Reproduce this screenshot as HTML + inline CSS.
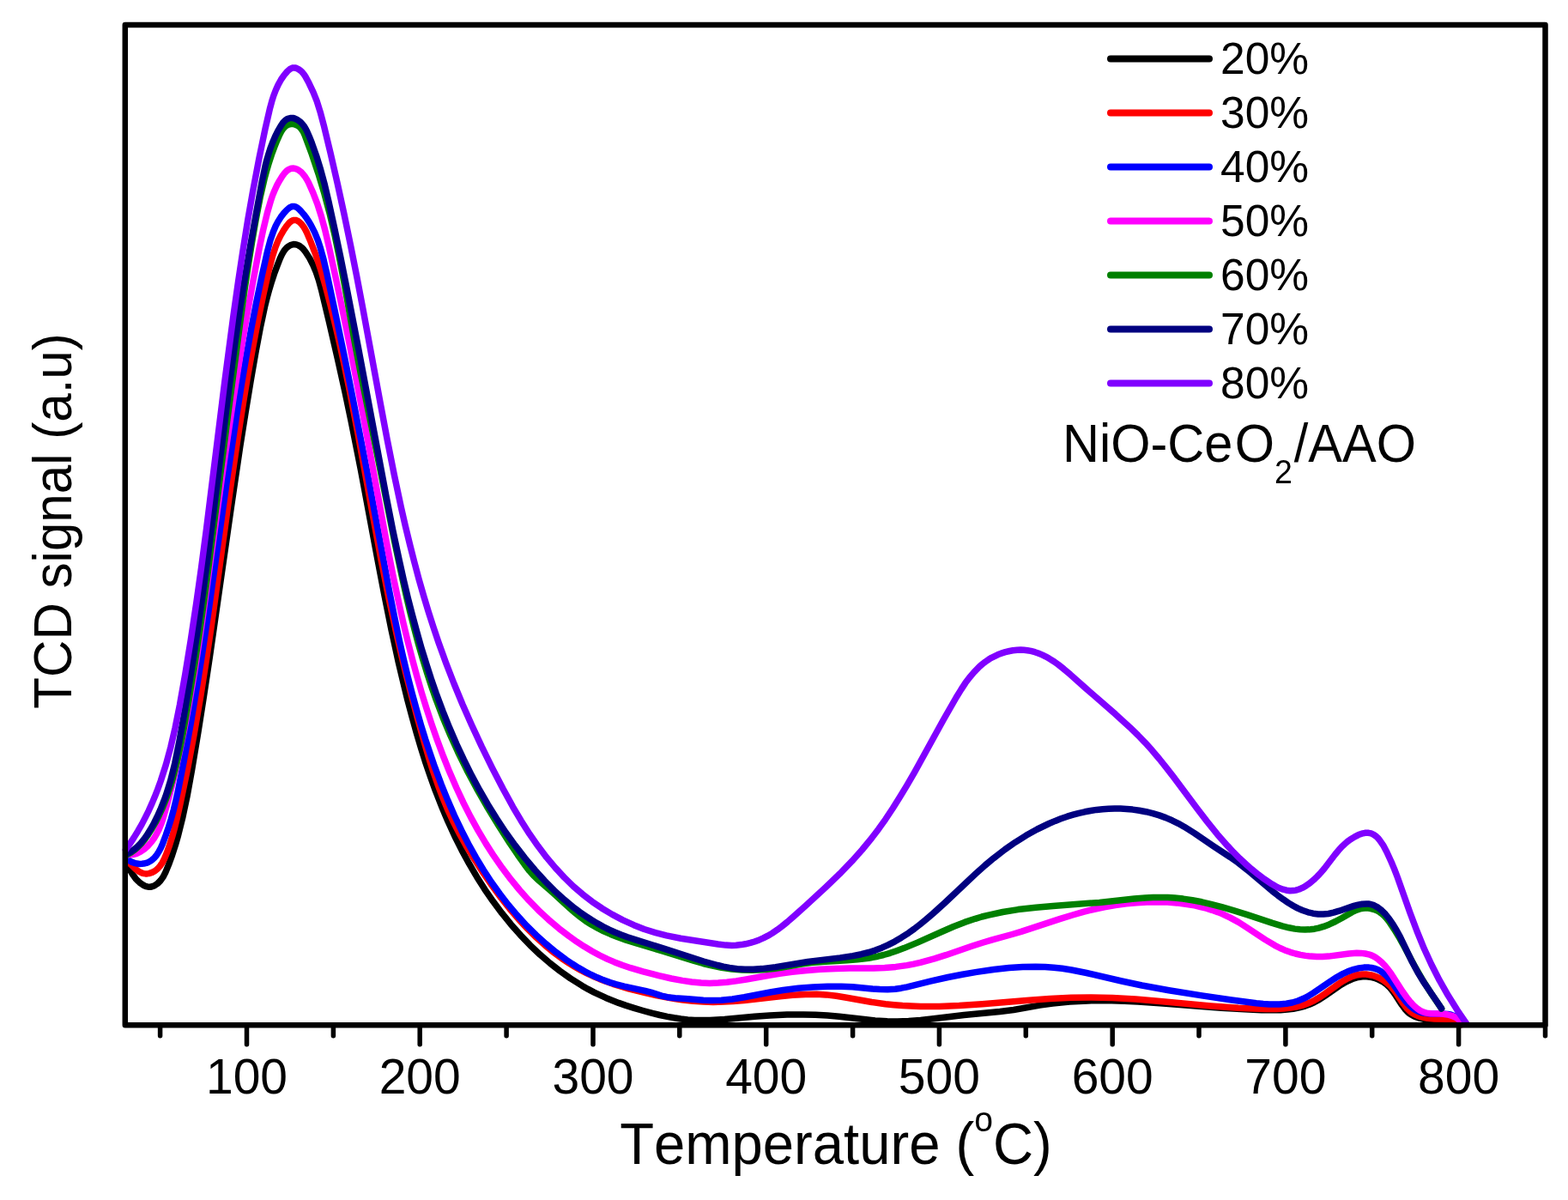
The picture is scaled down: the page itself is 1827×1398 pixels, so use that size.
<!DOCTYPE html>
<html><head><meta charset="utf-8"><title>TPR</title>
<style>html,body{margin:0;padding:0;background:#fff;}svg{display:block;}text{font-kerning:none;}</style>
</head><body>
<svg width="1827" height="1398" viewBox="0 0 1827 1398"><g><rect x="0" y="0" width="1827" height="1398" fill="#fff"/><path d="M147.2 1005.0L151.2 1013.1L154.8 1019.1L158.4 1023.9L160.4 1026.1L162.6 1028.1L166.7 1031.0L169.4 1032.3L171.3 1032.9L173.3 1033.2L175.3 1033.2L177.3 1032.8L180.1 1031.7L183.4 1029.5L186.9 1026.0L189.9 1021.9L192.7 1016.6L196.5 1007.4L200.6 996.1L204.3 984.7L207.6 973.1L212.9 951.8L217.9 928.3L223.6 896.8L231.0 852.4L237.5 810.9L244.5 764.4L269.3 591.2L279.8 519.9L286.1 480.4L292.1 443.9L298.3 408.4L303.7 379.9L308.5 357.4L311.2 346.7L313.8 337.1L316.7 327.5L319.5 319.0L323.0 309.6L326.3 301.2L328.4 296.7L330.4 293.2L332.1 290.7L334.1 288.5L336.5 286.7L339.1 285.3L342.0 284.6L344.0 284.7L346.0 285.1L347.8 285.9L349.6 286.9L351.9 288.7L354.0 290.9L355.8 293.3L360.7 300.8L364.8 308.8L368.3 317.1L371.5 326.6L374.4 337.2L383.5 375.2L393.6 419.0L401.9 456.1L409.1 490.4L420.4 547.3L439.9 651.5L447.8 692.7L456.1 733.9L464.2 771.1L469.5 793.5L474.7 814.8L480.1 835.1L485.2 853.4L490.6 871.7L496.0 888.8L501.5 904.9L507.3 920.9L514.6 939.5L522.0 957.0L529.9 974.3L538.0 990.4L546.6 1006.2L555.7 1021.7L564.8 1036.1L574.5 1050.1L584.7 1063.7L595.4 1076.9L606.6 1089.6L617.7 1101.2L629.3 1112.2L640.7 1122.0L652.5 1131.2L664.7 1139.9L678.3 1148.4L685.3 1152.4L692.3 1156.1L705.9 1162.4L720.8 1168.4L729.3 1171.4L738.8 1174.4L749.4 1177.5L760.0 1180.4L768.7 1182.5L777.5 1184.4L785.4 1185.8L793.3 1187.0L801.3 1187.9L809.3 1188.4L818.2 1188.6L827.2 1188.5L844.2 1187.4L879.1 1184.2L897.0 1182.9L917.0 1182.0L936.0 1181.9L950.0 1182.3L964.0 1183.1L977.9 1184.3L1006.8 1187.6L1019.7 1188.9L1033.7 1189.8L1045.7 1190.0L1058.7 1189.6L1072.6 1188.5L1085.6 1187.1L1123.3 1182.5L1165.1 1178.5L1181.0 1176.5L1211.5 1171.1L1226.4 1169.0L1236.3 1167.9L1246.3 1167.0L1267.2 1165.9L1281.2 1165.7L1295.2 1165.8L1310.2 1166.2L1326.2 1166.9L1355.2 1168.9L1423.0 1174.3L1454.9 1176.1L1469.9 1176.7L1482.9 1176.8L1491.9 1176.7L1499.9 1176.1L1506.8 1175.3L1513.7 1173.9L1520.5 1172.1L1526.1 1170.0L1531.6 1167.5L1537.7 1164.1L1543.5 1160.3L1560.8 1148.4L1566.0 1145.3L1571.3 1142.5L1576.8 1140.1L1582.6 1138.5L1587.5 1137.8L1592.5 1137.8L1598.4 1138.6L1601.3 1139.3L1605.1 1140.6L1610.5 1143.3L1615.4 1146.8L1619.1 1150.2L1622.9 1154.8L1626.3 1159.7L1633.4 1170.6L1637.6 1176.2L1639.7 1178.4L1641.9 1180.4L1644.4 1182.1L1647.0 1183.6L1649.7 1184.8L1652.6 1185.8L1658.4 1187.2L1666.3 1188.2L1683.3 1189.3L1690.2 1190.1L1697.1 1191.5L1702.8 1193.5" fill="none" stroke="#000000" stroke-width="7.5" stroke-linejoin="round" stroke-linecap="round"/><path d="M147.2 1002.0L155.0 1009.7L158.0 1012.4L162.0 1015.4L165.6 1017.1L167.5 1017.6L169.5 1017.9L171.5 1017.9L173.5 1017.6L177.3 1016.4L180.8 1014.5L183.9 1011.9L186.5 1008.9L189.3 1004.8L191.6 1000.3L194.3 993.8L197.6 984.4L200.6 974.9L203.3 965.3L206.4 952.6L209.9 937.0L218.5 895.9L226.1 855.6L233.6 812.2L239.8 772.7L246.3 729.2L268.5 568.7L278.1 503.4L283.5 468.8L288.9 436.3L294.6 404.8L300.2 375.3L306.7 344.0L313.5 313.7L317.3 299.2L321.0 287.8L324.0 280.4L327.1 274.1L330.6 268.1L334.0 263.1L337.3 259.3L339.6 257.5L341.4 256.6L342.4 256.4L344.4 256.4L346.3 257.0L348.8 258.6L351.0 260.7L353.5 263.8L355.6 267.2L357.4 270.8L362.1 281.8L368.2 297.7L373.6 313.8L378.9 332.1L385.0 355.3L390.7 378.6L396.1 402.0L401.6 427.4L407.3 454.8L417.5 507.8L436.2 610.2L444.1 652.4L452.7 695.6L461.2 734.7L467.2 761.0L473.3 786.3L480.0 812.4L486.7 837.6L493.4 861.6L499.0 880.8L504.5 898.0L510.1 914.1L516.1 929.9L522.3 944.7L528.7 958.3L536.0 972.5L544.3 987.3L553.2 1001.8L563.0 1016.9L573.9 1032.5L584.0 1046.2L593.9 1058.7L604.3 1070.9L614.5 1081.9L624.5 1091.7L634.8 1101.1L645.7 1110.0L656.2 1117.6L662.9 1122.1L669.7 1126.2L676.6 1130.2L683.8 1133.8L691.0 1137.2L698.4 1140.4L705.8 1143.3L714.3 1146.3L722.9 1149.0L732.5 1151.8L752.8 1156.9L764.6 1159.5L776.3 1161.8L786.2 1163.5L796.1 1165.0L808.0 1166.3L820.0 1167.1L831.0 1167.4L843.0 1167.1L854.0 1166.5L866.9 1165.4L908.7 1160.7L923.6 1159.3L938.6 1158.4L951.6 1158.3L962.5 1158.9L974.5 1160.3L986.3 1162.2L1015.8 1167.5L1031.7 1169.7L1041.6 1170.7L1051.6 1171.5L1061.6 1172.0L1072.6 1172.4L1094.6 1172.4L1117.6 1171.5L1144.5 1169.7L1199.3 1165.2L1223.3 1163.5L1248.2 1162.3L1271.2 1161.9L1296.2 1162.6L1323.2 1164.1L1349.1 1166.2L1410.9 1171.9L1442.8 1174.2L1459.8 1175.0L1474.8 1175.4L1486.8 1175.4L1495.7 1174.9L1503.7 1174.1L1511.6 1172.7L1518.3 1171.0L1524.9 1168.6L1531.3 1165.6L1537.3 1162.1L1543.9 1157.6L1560.2 1145.9L1565.2 1142.7L1570.5 1139.8L1576.0 1137.4L1581.7 1135.7L1586.7 1135.0L1591.7 1135.0L1597.6 1136.0L1600.5 1136.7L1604.2 1138.1L1607.0 1139.3L1610.5 1141.2L1613.8 1143.4L1616.2 1145.2L1619.9 1148.6L1623.9 1153.1L1627.4 1157.9L1634.6 1168.8L1638.9 1174.3L1641.0 1176.5L1643.2 1178.5L1645.6 1180.3L1648.2 1181.8L1651.8 1183.4L1655.6 1184.7L1659.5 1185.6L1663.5 1186.3L1671.4 1187.0L1685.4 1187.2L1691.4 1187.9L1695.2 1188.9L1698.0 1190.1L1700.6 1191.7L1702.9 1193.5" fill="none" stroke="#ff0000" stroke-width="7.5" stroke-linejoin="round" stroke-linecap="round"/><path d="M147.0 998.8L149.7 1001.7L151.3 1002.9L153.9 1004.4L157.7 1005.7L159.6 1006.1L162.6 1006.4L165.6 1006.3L167.6 1006.1L170.5 1005.4L172.4 1004.7L175.9 1002.8L177.5 1001.6L179.7 999.6L182.3 996.5L185.0 992.3L187.3 987.9L189.7 982.4L193.2 973.0L196.4 963.6L199.4 954.0L202.3 943.4L204.9 932.7L207.7 920.0L214.1 887.6L222.0 844.3L229.8 798.0L236.1 758.5L242.6 715.0L265.3 553.5L275.3 486.3L281.1 449.7L286.8 416.2L292.6 383.7L298.5 353.3L305.0 321.9L311.6 292.7L314.9 280.1L318.5 269.7L321.2 263.3L324.0 258.0L327.2 252.9L330.9 248.1L334.3 244.5L337.4 241.9L340.1 240.6L342.1 240.4L343.0 240.5L344.9 241.1L346.6 242.2L348.9 244.1L351.0 246.3L354.2 250.1L357.2 254.1L360.0 258.3L362.5 262.6L366.6 270.6L370.4 279.9L373.5 289.4L376.7 300.9L381.0 319.4L392.1 371.3L401.3 415.3L410.4 460.4L427.6 548.8L452.8 684.5L459.4 717.8L465.6 747.2L470.2 767.6L475.1 788.1L480.1 807.5L485.1 825.8L490.3 844.0L495.6 861.2L501.3 878.3L506.9 894.4L514.3 914.1L521.8 932.6L529.4 950.0L537.6 967.2L545.8 983.2L554.5 998.9L563.3 1013.5L572.6 1027.7L582.5 1041.5L592.3 1054.2L602.6 1066.4L613.4 1078.2L624.8 1089.4L635.9 1099.5L647.5 1109.1L659.5 1118.0L667.0 1123.0L673.8 1127.3L681.6 1131.8L688.7 1135.5L695.9 1138.8L703.3 1141.9L710.8 1144.6L717.5 1146.7L727.2 1149.1L751.7 1154.3L759.4 1156.4L770.8 1160.1L777.6 1161.7L786.6 1162.7L801.6 1163.7L819.5 1165.2L828.5 1165.6L840.5 1165.3L853.4 1164.0L867.2 1161.8L898.7 1155.8L912.5 1153.5L930.3 1151.3L947.3 1149.9L964.3 1149.2L980.3 1149.2L993.3 1149.8L1016.2 1151.9L1025.1 1152.5L1034.1 1152.7L1043.1 1152.2L1050.1 1151.2L1056.9 1149.8L1085.1 1142.9L1104.6 1138.5L1121.3 1135.2L1138.0 1132.4L1157.8 1129.5L1175.7 1127.6L1191.7 1126.5L1206.7 1126.2L1217.7 1126.5L1227.7 1127.2L1237.6 1128.3L1248.5 1130.0L1266.1 1133.5L1307.0 1143.0L1330.5 1148.0L1362.0 1153.7L1400.5 1159.9L1435.1 1165.0L1463.9 1168.7L1471.9 1169.5L1478.9 1169.9L1484.8 1170.1L1490.8 1170.0L1498.8 1169.3L1505.7 1168.0L1512.4 1166.0L1518.9 1163.3L1524.2 1160.6L1530.2 1156.9L1550.0 1143.3L1557.5 1138.5L1564.5 1134.6L1570.9 1131.6L1577.5 1129.3L1583.3 1127.9L1589.2 1127.1L1595.2 1127.1L1598.2 1127.5L1601.1 1128.1L1605.8 1129.8L1610.1 1132.3L1614.0 1135.5L1617.5 1139.1L1621.3 1143.7L1632.8 1160.0L1637.7 1166.4L1640.4 1169.4L1643.2 1172.2L1646.3 1174.7L1648.8 1176.4L1651.4 1177.8L1654.2 1179.0L1657.0 1179.9L1661.0 1180.6L1667.0 1181.0L1683.0 1181.2L1686.9 1181.5L1690.9 1182.3L1694.6 1183.7L1698.0 1185.8L1700.8 1188.6L1702.9 1192.0" fill="none" stroke="#0000ff" stroke-width="7.5" stroke-linejoin="round" stroke-linecap="round"/><path d="M147.0 994.9L148.9 995.5L150.9 995.8L154.9 995.6L158.8 994.7L163.3 992.5L168.2 989.1L172.7 985.1L176.6 980.6L180.1 975.7L182.6 971.4L185.3 966.0L187.6 960.4L189.6 954.8L194.3 938.5L201.3 911.3L208.0 882.1L214.4 851.8L220.5 819.3L226.5 783.8L231.0 755.2L235.8 722.5L258.6 556.1L265.6 507.5L272.2 463.0L279.5 416.6L286.7 373.2L294.3 330.9L301.7 291.5L306.6 268.1L311.5 247.6L315.7 233.2L317.6 227.6L319.9 222.0L322.8 215.6L325.7 210.4L328.9 205.3L331.9 201.3L334.0 199.1L336.4 197.4L339.2 196.3L342.2 196.1L344.1 196.5L346.9 197.6L348.6 198.7L351.0 200.5L353.0 202.7L355.5 205.9L357.6 209.3L359.5 212.8L364.8 224.6L369.8 237.7L374.4 252.0L378.6 267.5L383.4 287.9L391.9 327.0L399.7 364.2L407.7 403.4L423.1 483.9L450.7 633.4L458.0 670.7L465.1 704.0L470.1 726.4L475.3 747.8L480.5 768.2L485.7 787.5L491.2 806.7L496.8 824.9L502.7 842.9L509.0 860.9L516.3 880.5L523.7 899.1L531.7 917.5L539.7 934.7L548.3 951.6L557.0 967.4L566.2 982.9L575.4 997.2L585.1 1011.1L595.4 1024.7L605.5 1037.0L616.2 1048.9L627.4 1060.4L639.1 1071.3L651.3 1081.7L663.2 1090.8L672.2 1097.2L680.5 1102.6L690.0 1108.2L698.8 1113.0L707.8 1117.4L716.1 1120.9L725.4 1124.5L734.9 1127.7L749.3 1131.8L767.7 1136.6L782.3 1140.0L795.1 1142.4L806.0 1144.0L816.9 1145.1L826.9 1145.4L836.9 1145.1L846.9 1144.3L857.8 1142.9L869.6 1141.0L896.2 1136.3L908.1 1134.3L922.9 1132.3L937.8 1130.7L955.8 1129.3L973.8 1128.5L989.8 1128.1L1017.8 1127.9L1030.8 1127.4L1043.7 1126.4L1056.6 1124.6L1064.5 1123.1L1072.3 1121.4L1088.7 1116.9L1102.0 1112.7L1132.3 1102.3L1145.6 1098.0L1156.1 1094.8L1179.3 1088.5L1189.8 1085.4L1235.5 1070.4L1249.8 1066.0L1262.3 1062.4L1273.9 1059.5L1286.7 1056.8L1299.5 1054.6L1312.3 1052.8L1324.3 1051.7L1336.3 1051.0L1348.3 1050.8L1360.3 1051.1L1371.2 1051.9L1385.1 1053.7L1392.0 1054.9L1398.8 1056.5L1405.6 1058.2L1412.3 1060.3L1418.9 1062.6L1424.5 1064.8L1433.5 1069.1L1443.2 1074.4L1452.5 1080.3L1474.1 1094.6L1485.3 1101.3L1491.5 1104.5L1497.0 1106.9L1503.6 1109.3L1509.4 1111.0L1515.2 1112.4L1521.1 1113.4L1527.1 1114.1L1534.1 1114.5L1541.1 1114.5L1548.0 1114.1L1571.8 1111.0L1580.8 1110.3L1585.8 1110.4L1590.8 1111.0L1594.7 1111.8L1598.5 1113.1L1602.0 1114.9L1606.1 1117.8L1609.9 1121.1L1614.0 1125.4L1617.8 1130.1L1621.3 1135.0L1634.3 1155.2L1639.5 1162.5L1642.6 1166.4L1645.9 1170.1L1648.8 1172.9L1651.9 1175.4L1654.4 1177.1L1657.1 1178.5L1659.9 1179.6L1661.8 1180.1L1666.8 1180.7L1676.8 1180.9L1681.7 1181.2L1686.7 1182.0L1691.5 1183.3L1696.1 1185.3L1699.4 1187.4L1702.4 1190.1L1705.0 1193.2" fill="none" stroke="#ff00ff" stroke-width="7.5" stroke-linejoin="round" stroke-linecap="round"/><path d="M147.5 996.1L151.9 993.6L156.8 990.2L160.6 986.9L164.8 982.6L168.6 978.0L172.7 972.3L177.0 965.5L181.4 957.7L185.4 949.7L189.2 941.5L192.6 933.1L195.7 924.7L198.5 916.1L201.4 906.6L204.2 895.9L206.8 885.2L209.5 872.5L212.3 858.8L219.5 818.4L226.2 778.0L232.9 733.4L238.0 697.8L243.3 658.1L265.2 486.5L280.9 367.5L285.4 334.8L289.6 307.1L293.7 281.4L298.0 256.7L303.1 230.2L308.0 208.8L310.6 199.1L313.4 189.5L316.5 180.0L319.6 171.6L322.6 164.1L325.9 156.8L327.7 153.3L329.9 149.9L332.6 147.1L335.2 145.5L338.0 144.6L341.0 144.4L343.0 144.8L344.9 145.4L346.7 146.3L349.1 148.0L350.5 149.5L352.3 151.9L353.8 154.5L355.0 157.2L363.4 179.7L371.0 202.5L377.9 225.5L384.1 248.7L389.6 272.1L394.9 297.5L401.1 329.9L413.5 399.9L419.9 433.3L443.0 547.0L459.6 630.4L468.5 672.5L473.3 693.9L477.9 713.4L482.6 731.8L487.5 750.2L492.5 767.5L497.5 783.7L502.8 799.9L508.1 815.0L516.3 836.5L524.8 856.8L533.9 876.8L544.1 897.4L555.4 918.6L567.3 939.5L580.3 960.8L593.8 981.9L603.3 996.0L611.4 1007.4L616.9 1014.6L621.5 1019.8L628.0 1026.0L644.7 1040.4L664.6 1058.7L670.6 1063.9L676.1 1068.3L682.5 1073.0L689.3 1077.3L696.3 1081.2L703.4 1084.8L711.6 1088.4L720.0 1091.7L729.5 1095.1L740.9 1098.7L772.5 1108.2L808.8 1119.5L819.4 1122.5L829.1 1124.9L840.8 1127.4L852.7 1129.1L864.7 1130.1L876.7 1130.3L888.7 1129.8L901.6 1128.5L911.5 1127.0L934.2 1123.1L945.1 1121.6L958.0 1120.5L987.0 1118.8L999.0 1117.8L1011.9 1116.2L1022.7 1114.2L1029.5 1112.5L1037.1 1110.3L1044.7 1107.7L1053.2 1104.6L1068.9 1098.1L1099.0 1084.7L1111.0 1079.5L1124.0 1074.4L1136.4 1070.3L1144.0 1068.0L1151.8 1066.1L1168.4 1062.5L1186.2 1059.6L1207.1 1057.2L1227.0 1055.4L1280.9 1051.4L1321.6 1047.1L1334.6 1046.0L1343.6 1045.5L1352.6 1045.4L1360.6 1045.6L1368.6 1046.1L1378.5 1047.1L1389.4 1048.8L1400.2 1050.8L1410.9 1053.3L1423.5 1056.6L1437.9 1060.8L1453.2 1065.6L1482.6 1075.4L1494.1 1078.9L1501.9 1080.8L1508.7 1082.1L1514.7 1082.8L1520.7 1083.0L1526.7 1082.8L1531.6 1082.2L1536.5 1081.1L1542.3 1079.4L1548.8 1076.9L1556.1 1073.5L1563.1 1069.7L1575.3 1062.7L1580.7 1060.2L1584.5 1058.9L1587.4 1058.3L1590.4 1058.0L1594.4 1058.1L1597.4 1058.6L1601.2 1059.6L1604.9 1061.1L1607.5 1062.6L1610.0 1064.4L1612.9 1067.0L1615.6 1070.0L1618.7 1073.9L1624.8 1083.1L1631.0 1093.4L1636.3 1103.0L1649.5 1127.7L1657.0 1140.7L1667.2 1156.8L1679.6 1174.9" fill="none" stroke="#008000" stroke-width="7.5" stroke-linejoin="round" stroke-linecap="round"/><path d="M147.5 995.0L151.9 992.7L156.0 989.8L159.8 986.6L164.0 982.3L167.8 977.6L171.3 972.8L175.0 966.8L179.4 959.0L183.0 951.8L186.7 943.6L189.7 936.2L192.9 927.8L195.7 919.2L198.6 909.6L201.1 900.0L203.7 889.3L208.7 864.8L215.6 826.4L222.6 784.0L229.6 738.5L236.4 691.0L243.5 638.4L250.4 583.8L265.6 461.8L274.4 395.3L279.8 358.7L285.3 324.1L291.8 285.7L299.4 243.3L305.6 209.9L308.9 194.2L310.8 186.5L312.8 179.7L314.9 173.1L317.4 166.5L320.5 159.2L323.6 152.9L327.1 146.8L329.9 142.7L332.7 139.9L335.3 138.3L338.2 137.5L341.2 137.5L343.1 138.0L345.9 139.2L348.4 140.8L350.7 142.7L352.7 144.9L354.5 147.3L356.1 149.9L357.9 153.4L360.3 158.9L363.3 166.4L368.6 181.4L373.6 197.7L378.3 215.1L382.9 234.6L389.5 264.8L396.7 299.1L404.0 335.4L417.5 405.1L449.8 577.1L457.7 617.4L465.2 652.6L470.2 675.1L475.3 696.5L480.5 716.8L485.7 736.1L490.9 754.4L496.5 772.6L502.3 790.7L508.2 807.7L515.9 828.3L523.7 847.8L532.0 867.1L540.5 885.2L549.4 903.1L558.9 920.7L568.4 937.2L578.4 953.3L588.9 969.2L600.0 984.6L611.6 999.6L623.2 1013.5L634.6 1026.1L645.8 1037.4L657.6 1048.2L669.2 1057.8L675.6 1062.6L682.2 1067.1L688.9 1071.5L695.8 1075.6L702.8 1079.5L709.9 1083.1L716.3 1086.0L723.7 1089.0L731.2 1091.8L740.7 1094.9L775.1 1105.6L819.8 1120.0L836.2 1124.5L843.0 1126.1L849.9 1127.4L858.8 1128.7L867.8 1129.3L877.8 1129.3L887.8 1128.6L903.7 1126.6L941.2 1120.4L978.9 1115.9L993.7 1113.6L1003.5 1111.7L1012.3 1109.5L1019.9 1107.1L1027.4 1104.2L1034.7 1100.9L1042.7 1096.8L1050.4 1092.2L1058.8 1086.8L1065.3 1082.1L1072.4 1076.6L1079.4 1070.9L1087.0 1064.4L1101.1 1051.6L1136.7 1018.0L1147.9 1008.0L1157.9 999.7L1170.6 989.9L1182.9 981.3L1195.6 973.3L1208.7 966.0L1222.2 959.5L1229.5 956.4L1236.1 953.8L1243.6 951.2L1250.3 949.2L1257.1 947.3L1263.9 945.8L1270.8 944.5L1277.7 943.4L1284.7 942.7L1291.6 942.2L1298.6 942.0L1305.6 942.1L1312.6 942.4L1319.6 943.1L1327.5 944.2L1335.4 945.7L1343.2 947.6L1350.8 949.9L1358.3 952.6L1365.7 955.8L1372.9 959.3L1379.8 963.2L1391.7 970.7L1414.0 985.9L1433.3 998.5L1440.7 1003.6L1453.3 1013.5L1482.3 1038.0L1488.6 1042.9L1495.1 1047.7L1500.8 1051.6L1506.8 1055.2L1512.1 1058.1L1517.6 1060.5L1524.2 1062.8L1530.0 1064.2L1536.0 1065.0L1542.0 1065.1L1547.9 1064.5L1553.8 1063.2L1560.5 1061.2L1577.5 1055.4L1582.4 1054.1L1587.3 1053.2L1592.3 1052.9L1595.3 1053.1L1597.2 1053.5L1601.0 1054.7L1605.4 1057.1L1610.1 1060.8L1614.3 1065.0L1618.7 1070.5L1623.2 1077.1L1627.3 1084.0L1631.6 1091.9L1645.5 1120.8L1652.1 1133.1L1659.4 1145.0L1674.0 1166.5L1679.5 1174.9" fill="none" stroke="#000080" stroke-width="7.5" stroke-linejoin="round" stroke-linecap="round"/><path d="M146.5 990.0L151.1 983.4L156.0 975.9L160.7 968.2L165.2 960.4L169.3 952.4L173.3 944.3L177.0 936.1L180.5 927.8L183.8 919.4L187.2 910.0L193.3 891.0L198.8 870.7L204.0 848.3L209.5 820.9L215.8 785.4L222.4 744.9L228.8 702.4L234.5 661.8L240.5 616.2L262.2 441.5L271.9 368.1L277.5 328.5L283.2 290.9L288.9 255.4L294.8 221.9L301.9 184.5L309.2 149.3L314.6 125.9L316.7 118.2L318.8 111.5L321.3 105.0L324.2 98.6L327.6 92.5L331.0 87.6L334.9 83.0L338.0 80.4L340.7 79.1L341.7 79.0L343.7 79.0L345.6 79.5L348.2 80.9L349.9 82.1L352.1 84.1L354.0 86.4L355.7 88.9L360.0 96.8L365.1 107.6L369.2 117.9L373.1 130.3L377.2 145.7L385.2 178.8L393.0 212.9L400.9 249.1L408.6 286.3L415.6 321.6L422.9 359.9L443.8 473.0L451.2 512.3L459.4 553.5L467.3 590.7L472.4 613.1L477.6 634.5L482.8 654.9L488.2 675.2L493.7 694.4L499.2 712.6L505.0 730.7L511.1 748.7L519.6 772.2L529.0 796.5L538.9 820.5L549.4 844.3L561.2 869.7L573.6 894.8L586.0 918.8L597.5 939.8L607.2 956.2L616.9 971.4L626.6 985.3L636.9 998.9L647.2 1011.1L657.4 1022.1L668.1 1032.6L678.7 1041.7L689.8 1050.3L701.4 1058.2L713.4 1065.4L725.7 1071.9L738.5 1077.7L750.6 1082.5L763.9 1086.7L776.5 1089.9L793.2 1093.2L836.7 1100.0L845.6 1101.1L852.6 1101.4L857.6 1101.2L863.6 1100.6L868.5 1099.8L874.4 1098.4L879.2 1097.0L884.8 1094.9L889.4 1092.9L894.7 1090.2L899.9 1087.1L905.7 1083.2L911.3 1079.0L917.5 1074.0L925.1 1067.4L939.2 1054.7L962.0 1033.7L978.6 1017.8L992.5 1003.4L1004.5 990.0L1015.9 976.1L1023.8 965.7L1031.9 954.3L1040.2 941.8L1048.2 929.1L1056.5 915.4L1065.5 899.8L1099.3 838.5L1114.2 812.5L1120.0 803.1L1124.9 795.6L1129.7 789.2L1134.9 783.1L1141.2 776.7L1145.0 773.4L1148.1 771.0L1152.3 768.1L1155.7 766.1L1162.9 762.6L1166.6 761.2L1171.4 759.7L1176.3 758.5L1180.2 757.8L1185.2 757.3L1189.2 757.1L1193.2 757.3L1197.1 757.7L1201.1 758.4L1205.9 759.7L1209.7 761.0L1214.3 762.9L1218.8 765.1L1223.1 767.6L1228.2 770.8L1233.1 774.3L1239.4 779.3L1247.0 785.7L1265.7 802.4L1299.6 831.9L1316.6 847.4L1325.9 856.5L1334.2 865.1L1342.3 874.1L1350.7 884.0L1358.2 893.3L1366.8 904.4L1394.9 942.0L1406.5 957.1L1418.4 971.9L1430.3 985.4L1437.1 992.7L1444.2 999.8L1451.5 1006.6L1458.3 1012.5L1466.1 1018.8L1473.3 1024.2L1479.9 1028.7L1486.0 1032.3L1490.4 1034.5L1495.1 1036.2L1499.0 1037.2L1503.0 1037.7L1506.9 1037.6L1509.9 1037.1L1513.7 1036.0L1517.4 1034.4L1521.7 1031.9L1525.8 1029.1L1530.5 1025.2L1534.8 1021.1L1538.9 1016.7L1542.8 1012.2L1555.6 995.5L1560.7 989.3L1564.2 985.7L1567.1 983.0L1570.1 980.4L1573.4 978.0L1578.5 974.9L1582.9 972.6L1586.7 971.2L1590.6 970.3L1592.6 970.2L1594.6 970.3L1597.5 970.9L1600.2 972.1L1603.5 974.4L1605.7 976.5L1607.6 978.8L1611.6 984.6L1615.8 992.5L1621.2 1004.3L1624.7 1012.6L1628.3 1022.0L1643.0 1063.4L1651.1 1085.0L1659.4 1105.3L1667.8 1123.5L1677.3 1142.2L1687.2 1159.6L1697.8 1176.6L1709.1 1193.1" fill="none" stroke="#8000ff" stroke-width="7.5" stroke-linejoin="round" stroke-linecap="round"/><rect x="145.8" y="29.0" width="1654.7" height="1165.2" fill="none" stroke="#000" stroke-width="6.5" stroke-linejoin="round"/><path d="M186.6 1194.2V1206.7 M287.5 1194.2V1216.7 M388.4 1194.2V1206.7 M489.2 1194.2V1216.7 M590.1 1194.2V1206.7 M691.0 1194.2V1216.7 M791.8 1194.2V1206.7 M892.7 1194.2V1216.7 M993.6 1194.2V1206.7 M1094.4 1194.2V1216.7 M1195.3 1194.2V1206.7 M1296.2 1194.2V1216.7 M1397.0 1194.2V1206.7 M1497.9 1194.2V1216.7 M1598.7 1194.2V1206.7 M1699.6 1194.2V1216.7 M1800.5 1194.2V1206.7" stroke="#000" stroke-width="5.5" stroke-linecap="round" fill="none"/><text x="287.5" y="1274" font-size="57" text-anchor="middle" font-family="'Liberation Sans', Arial, sans-serif">100</text><text x="489.2" y="1274" font-size="57" text-anchor="middle" font-family="'Liberation Sans', Arial, sans-serif">200</text><text x="691.0" y="1274" font-size="57" text-anchor="middle" font-family="'Liberation Sans', Arial, sans-serif">300</text><text x="892.7" y="1274" font-size="57" text-anchor="middle" font-family="'Liberation Sans', Arial, sans-serif">400</text><text x="1094.4" y="1274" font-size="57" text-anchor="middle" font-family="'Liberation Sans', Arial, sans-serif">500</text><text x="1296.2" y="1274" font-size="57" text-anchor="middle" font-family="'Liberation Sans', Arial, sans-serif">600</text><text x="1497.9" y="1274" font-size="57" text-anchor="middle" font-family="'Liberation Sans', Arial, sans-serif">700</text><text x="1699.6" y="1274" font-size="57" text-anchor="middle" font-family="'Liberation Sans', Arial, sans-serif">800</text><text transform="translate(722.2 1355.8) scale(1 1.045)" font-size="65.2" font-family="'Liberation Sans', Arial, sans-serif">Temperature (<tspan font-size="39.1" dy="-36.1">o</tspan><tspan dy="36.1">C)</tspan></text><text transform="translate(83.2 825.7) rotate(-90) scale(1 1.038)" font-size="60.1" font-family="'Liberation Sans', Arial, sans-serif">TCD signal (a.u)</text><line x1="1294" y1="68.5" x2="1409" y2="68.5" stroke="#000000" stroke-width="8" stroke-linecap="round"/><text x="1422" y="86.1" font-size="51.5" font-family="'Liberation Sans', Arial, sans-serif">20%</text><line x1="1294" y1="131.5" x2="1409" y2="131.5" stroke="#ff0000" stroke-width="8" stroke-linecap="round"/><text x="1422" y="149.1" font-size="51.5" font-family="'Liberation Sans', Arial, sans-serif">30%</text><line x1="1294" y1="194.5" x2="1409" y2="194.5" stroke="#0000ff" stroke-width="8" stroke-linecap="round"/><text x="1422" y="212.1" font-size="51.5" font-family="'Liberation Sans', Arial, sans-serif">40%</text><line x1="1294" y1="257.5" x2="1409" y2="257.5" stroke="#ff00ff" stroke-width="8" stroke-linecap="round"/><text x="1422" y="275.1" font-size="51.5" font-family="'Liberation Sans', Arial, sans-serif">50%</text><line x1="1294" y1="320.5" x2="1409" y2="320.5" stroke="#008000" stroke-width="8" stroke-linecap="round"/><text x="1422" y="338.1" font-size="51.5" font-family="'Liberation Sans', Arial, sans-serif">60%</text><line x1="1294" y1="383.5" x2="1409" y2="383.5" stroke="#000080" stroke-width="8" stroke-linecap="round"/><text x="1422" y="401.1" font-size="51.5" font-family="'Liberation Sans', Arial, sans-serif">70%</text><line x1="1294" y1="446.5" x2="1409" y2="446.5" stroke="#8000ff" stroke-width="8" stroke-linecap="round"/><text x="1422" y="464.1" font-size="51.5" font-family="'Liberation Sans', Arial, sans-serif">80%</text><text transform="translate(1238 538) scale(1 1.05)" font-size="59.5" font-family="'Liberation Sans', Arial, sans-serif">NiO-Ce<tspan dx="2.5">O</tspan><tspan font-size="37.5" dx="0" dy="23.8">2</tspan><tspan dx="1.8" dy="-23.8">/AAO</tspan></text></g></svg>
</body></html>
